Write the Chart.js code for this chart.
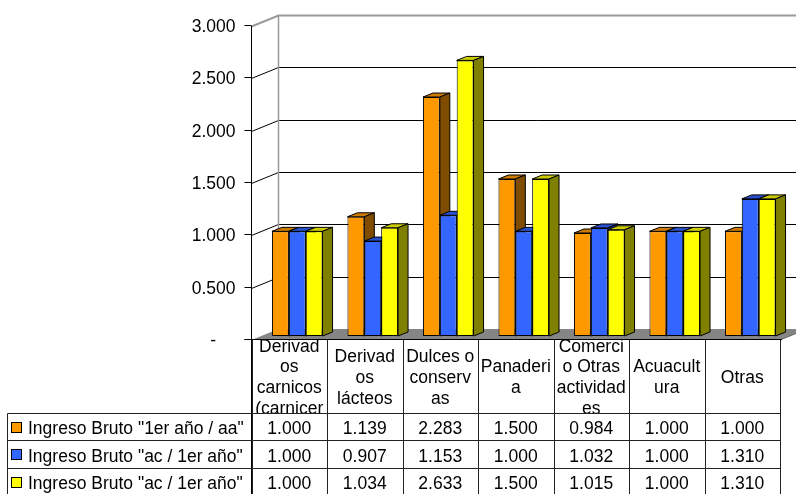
<!DOCTYPE html>
<html>
<head>
<meta charset="utf-8">
<script src="https://cdn.jsdelivr.net/npm/chart.js@4.4.0/dist/chart.umd.min.js"></script>
<style>
  html, body { margin: 0; padding: 0; background: #fff; }
  canvas { display: block; }
</style>
</head>
<body>
<canvas id="chart" width="796" height="494"></canvas>
<script>
// categories, already wrapped the way the table cells show them
const categories = [
  ["Derivad", "os", "carnicos", "(carnicer"],
  ["Derivad", "os", "lácteos"],
  ["Dulces o", "conserv", "as"],
  ["Panaderi", "a"],
  ["Comerci", "o Otras", "actividad", "es"],
  ["Acuacult", "ura"],
  ["Otras"]
];

const seriesNames = [
  'Ingreso Bruto "1er año / aa"',
  'Ingreso Bruto "ac / 1er año"',
  'Ingreso Bruto "ac / 1er año"'
];

const ingreso1erAnoAA = [1.000, 1.139, 2.283, 1.500, 0.984, 1.000, 1.000];
const ingresoAC1erAno = [1.000, 0.907, 1.153, 1.000, 1.032, 1.000, 1.310];
const ingresoAC1erAno2 = [1.000, 1.034, 2.633, 1.500, 1.015, 1.000, 1.310];

const yTicks = [0, 0.5, 1, 1.5, 2, 2.5, 3];
const yTickLabels = ["-    ", "0.500", "1.000", "1.500", "2.000", "2.500", "3.000"];

// colours: front, top, side
const frontColors = ["#FF9900", "#3366FF", "#FFFF00"];
const topColors = ["#CC7A00", "#2850CC", "#CCCC00"];
const sideColors = ["#7F4C00", "#1A3380", "#808000"];

const FONT = '17.5px "Liberation Sans", Arial, sans-serif';

// 3d geometry
const WALL_DX = 27, WALL_DY = -11;
const BAR_SHIFT_X = 8, BAR_SHIFT_Y = -4;
const BAR_DX = 10, BAR_DY = -4;

// table geometry
const HEADER_BOTTOM = 414;
const ROW_H = 27.4;
const TABLE_LEFT = 7.5;
const LINE_H = 20.8;

function poly(ctx, pts, fill) {
  ctx.beginPath();
  ctx.moveTo(pts[0][0], pts[0][1]);
  for (let i = 1; i < pts.length; i++) ctx.lineTo(pts[i][0], pts[i][1]);
  ctx.closePath();
  ctx.fillStyle = fill;
  ctx.fill();
  ctx.stroke();
}

const walls3d = {
  id: "walls3d",
  beforeDatasetsDraw(chart) {
    const { ctx, chartArea: a, scales: { y } } = chart;
    ctx.save();

    // floor
    ctx.fillStyle = "#858585";
    ctx.beginPath();
    ctx.moveTo(a.left, a.bottom);
    ctx.lineTo(a.right, a.bottom);
    ctx.lineTo(a.right + WALL_DX, a.bottom + WALL_DY);
    ctx.lineTo(a.left + WALL_DX, a.bottom + WALL_DY);
    ctx.closePath();
    ctx.fill();

    // side wall + back wall gridlines
    yTicks.forEach((v, i) => {
      if (v === 0) return;
      const py = Math.round(y.getPixelForValue(v)) + 0.5;
      const top = i === yTicks.length - 1;
      ctx.strokeStyle = top ? "#9a9a9a" : "#000";
      ctx.lineWidth = top ? 2 : 1;
      ctx.beginPath();
      ctx.moveTo(a.left, py);
      ctx.lineTo(a.left + WALL_DX, py + WALL_DY);
      ctx.lineTo(chart.width, py + WALL_DY);
      ctx.stroke();
    });

    // back wall left edge
    ctx.strokeStyle = "#9a9a9a";
    ctx.lineWidth = 1.5;
    ctx.beginPath();
    ctx.moveTo(a.left + WALL_DX, y.getPixelForValue(3) + WALL_DY);
    ctx.lineTo(a.left + WALL_DX, a.bottom + WALL_DY);
    ctx.stroke();

    // floor right edge
    ctx.strokeStyle = "#666";
    ctx.lineWidth = 1;
    ctx.beginPath();
    ctx.moveTo(a.right, a.bottom);
    ctx.lineTo(a.right + WALL_DX, a.bottom + WALL_DY);
    ctx.stroke();

    // bars, left to right so each front hides the previous side
    ctx.translate(BAR_SHIFT_X, BAR_SHIFT_Y);
    ctx.strokeStyle = "#000";
    ctx.lineWidth = 1;
    ctx.lineJoin = "round";
    const n = chart.data.datasets.length;
    for (let i = 0; i < categories.length; i++) {
      for (let d = 0; d < n; d++) {
        const bar = chart.getDatasetMeta(d).data[i];
        const l = bar.x - bar.width / 2;
        const r = bar.x + bar.width / 2;
        poly(ctx, [[l, bar.y], [r, bar.y], [r + BAR_DX, bar.y + BAR_DY], [l + BAR_DX, bar.y + BAR_DY]], topColors[d]);
        poly(ctx, [[r, bar.y], [r + BAR_DX, bar.y + BAR_DY], [r + BAR_DX, bar.base + BAR_DY], [r, bar.base]], sideColors[d]);
        bar.draw(ctx);
      }
    }
    ctx.restore();
    return false;
  },
  afterDraw(chart) {
    const { ctx, chartArea: a, scales: { x, y } } = chart;
    ctx.save();
    ctx.strokeStyle = "#000";
    ctx.lineWidth = 1;

    // front axis line, running down into the table
    ctx.beginPath();
    ctx.moveTo(a.left, a.top);
    ctx.lineTo(a.left, chart.height);
    ctx.stroke();

    // ticks and labels
    ctx.font = FONT;
    ctx.fillStyle = "#000";
    ctx.textAlign = "right";
    ctx.textBaseline = "alphabetic";
    yTicks.forEach((v, i) => {
      const py = Math.round(y.getPixelForValue(v)) - 0.5;
      ctx.beginPath();
      ctx.moveTo(a.left - 7, py);
      ctx.lineTo(a.left, py);
      ctx.stroke();
      ctx.fillText(yTickLabels[i], a.left - 16, py + 6.5);
    });

    // floor front edge / table top
    ctx.beginPath();
    ctx.moveTo(a.left - 7, a.bottom - 0.5);
    ctx.lineTo(a.right + 2, a.bottom - 0.5);
    ctx.stroke();

    const colW = (a.right - a.left) / categories.length;

    // header labels, clipped by their cells
    ctx.textAlign = "center";
    const mid = 376.7;
    categories.forEach((lines, i) => {
      const cx = x.getPixelForValue(i);
      const cl = a.left + colW * i;
      ctx.save();
      ctx.beginPath();
      ctx.rect(cl, a.bottom, colW, HEADER_BOTTOM - a.bottom - 0.5);
      ctx.clip();
      lines.forEach((t, k) => {
        ctx.fillText(t, cx, mid + 6 + (k - (lines.length - 1) / 2) * LINE_H);
      });
      ctx.restore();
    });

    // table grid
    ctx.strokeStyle = "#222";
    for (let i = 0; i <= categories.length; i++) {
      const gx = Math.round(a.left + colW * i) + 0.5;
      ctx.beginPath();
      ctx.moveTo(gx, a.bottom);
      ctx.lineTo(gx, chart.height);
      ctx.stroke();
    }
    for (let r = 0; r <= 3; r++) {
      const gy = Math.round(HEADER_BOTTOM + ROW_H * r) - 0.5;
      ctx.beginPath();
      ctx.moveTo(TABLE_LEFT, gy);
      ctx.lineTo(a.right + 0.5, gy);
      ctx.stroke();
    }
    ctx.beginPath();
    ctx.moveTo(TABLE_LEFT, HEADER_BOTTOM - 0.5);
    ctx.lineTo(TABLE_LEFT, chart.height);
    ctx.stroke();

    // rows: legend key, name, values
    chart.data.datasets.forEach((ds, d) => {
      const cy = HEADER_BOTTOM + ROW_H * d + ROW_H / 2;
      ctx.fillStyle = frontColors[d];
      ctx.fillRect(11.5, Math.round(cy) - 5.5, 10, 10);
      ctx.strokeStyle = "#000";
      ctx.strokeRect(11.5, Math.round(cy) - 5.5, 10, 10);
      ctx.fillStyle = "#000";
      ctx.textAlign = "left";
      ctx.fillText(ds.label, 28, cy + 6.5);
      ctx.textAlign = "center";
      ds.data.forEach((v, i) => {
        ctx.fillText(v.toFixed(3), x.getPixelForValue(i), cy + 6.5);
      });
    });
    ctx.restore();
  }
};

const seriesValues = [ingreso1erAnoAA, ingresoAC1erAno, ingresoAC1erAno2];

new Chart(document.getElementById("chart"), {
  type: "bar",
  data: {
    labels: categories,
    datasets: seriesValues.map((vals, d) => ({
      label: seriesNames[d],
      data: vals,
      backgroundColor: frontColors[d],
      borderColor: "#000",
      borderWidth: 1,
      borderSkipped: false,
      categoryPercentage: 0.67,
      barPercentage: 1.0
    }))
  },
  options: {
    responsive: false,
    animation: false,
    layout: { padding: { left: 251.5, right: 16, top: 26, bottom: 154 } },
    scales: {
      x: { display: false, offset: true },
      y: { display: false, min: 0, max: 3 }
    },
    plugins: {
      legend: { display: false },
      tooltip: { enabled: false }
    }
  },
  plugins: [walls3d]
});
</script>
</body>
</html>
